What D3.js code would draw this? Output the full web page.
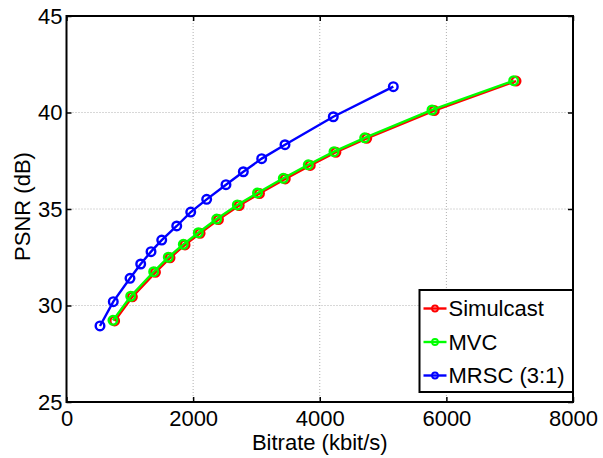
<!DOCTYPE html>
<html>
<head>
<meta charset="utf-8">
<script src="https://cdn.jsdelivr.net/npm/d3@7"></script>
<style>
  body { margin: 0; background: #fff; }
  text { font-family: "Liberation Sans", Arial, Helvetica, sans-serif; }
</style>
</head>
<body>
<div id="chart"></div>
<script>
// data
var seriesNames = ["Simulcast", "MVC", "MRSC (3:1)"];
var seriesColors = ["#ff0000", "#00ff00", "#0000ff"];

var simulcastRate = [760, 1040, 1405, 1635, 1872, 2110, 2400, 2728, 3048, 3455, 3850, 4255, 4742, 5808, 7100];
var simulcastPsnr = [29.20, 30.45, 31.72, 32.47, 33.14, 33.74, 34.45, 35.18, 35.80, 36.56, 37.26, 37.94, 38.66, 40.10, 41.63];

var mvcRate = [734, 1014, 1377, 1608, 1845, 2082, 2372, 2698, 3017, 3424, 3819, 4225, 4710, 5773, 7063];
var mvcPsnr = [29.23, 30.48, 31.75, 32.50, 33.17, 33.77, 34.48, 35.21, 35.83, 36.59, 37.29, 37.97, 38.69, 40.13, 41.65];

var mrscRate = [529, 739, 1003, 1172, 1335, 1504, 1741, 1962, 2214, 2519, 2793, 3083, 3451, 4214, 5162];
var mrscPsnr = [28.94, 30.20, 31.41, 32.15, 32.79, 33.39, 34.12, 34.84, 35.50, 36.26, 36.93, 37.61, 38.33, 39.78, 41.34];

var xTicks = [0, 2000, 4000, 6000, 8000];
var yTicks = [25, 30, 35, 40, 45];

var WIDTH = 603, HEIGHT = 458;
var margin = {left: 66.5, top: 16, right: 30, bottom: 56};

var x = d3.scaleLinear().domain([0, 8000]).range([margin.left, WIDTH - margin.right]);
var y = d3.scaleLinear().domain([25, 45]).range([HEIGHT - margin.bottom, margin.top]);

var svg = d3.select("#chart").append("svg")
    .attr("width", WIDTH)
    .attr("height", HEIGHT);

// grid
var grid = svg.append("g").attr("class", "grid");
grid.selectAll("line.vx")
    .data(xTicks.slice(1, -1)).enter().append("line")
    .attr("x1", function (d) { return x(d); })
    .attr("x2", function (d) { return x(d); })
    .attr("y1", y(25)).attr("y2", y(45))
    .attr("stroke", "#b0b0b0").attr("stroke-width", 1)
    .attr("stroke-dasharray", "1,2");
grid.selectAll("line.hy")
    .data(yTicks.slice(1, -1)).enter().append("line")
    .attr("y1", function (d) { return y(d); })
    .attr("y2", function (d) { return y(d); })
    .attr("x1", x(0)).attr("x2", x(8000))
    .attr("stroke", "#b0b0b0").attr("stroke-width", 1)
    .attr("stroke-dasharray", "1,2");

// series
var series = [
    {rate: simulcastRate, psnr: simulcastPsnr},
    {rate: mvcRate, psnr: mvcPsnr},
    {rate: mrscRate, psnr: mrscPsnr}
];

var line = d3.line()
    .x(function (d) { return x(d[0]); })
    .y(function (d) { return y(d[1]); });

var plot = svg.append("g").attr("id", "plot");
series.forEach(function (s, i) {
    var pts = s.rate.map(function (r, j) { return [r, s.psnr[j]]; });
    plot.append("path")
        .attr("d", line(pts))
        .attr("fill", "none")
        .attr("stroke", seriesColors[i])
        .attr("stroke-width", 2.4);
    plot.selectAll("circle.s" + i)
        .data(pts).enter().append("circle")
        .attr("cx", function (d) { return x(d[0]); })
        .attr("cy", function (d) { return y(d[1]); })
        .attr("r", 4.3)
        .attr("fill", "none")
        .attr("stroke", seriesColors[i])
        .attr("stroke-width", 2.4);
});

// axes (ticks inward on all four sides)
var fontSize = 22;
function styleAxis(g) {
    g.select(".domain").remove();
    g.selectAll(".tick line").attr("stroke", "#000").attr("stroke-width", 1.5);
    g.selectAll(".tick text").attr("font-size", fontSize).attr("fill", "#000")
        .style("font-family", '"Liberation Sans", Arial, sans-serif');
}

svg.append("g")
    .attr("transform", "translate(0," + y(25) + ")")
    .call(d3.axisBottom(x).tickValues(xTicks).tickSizeInner(-5).tickSizeOuter(0).tickPadding(8).tickFormat(d3.format("d")))
    .call(styleAxis);
svg.append("g")
    .attr("transform", "translate(0," + y(45) + ")")
    .call(d3.axisTop(x).tickValues(xTicks).tickSizeInner(-5).tickSizeOuter(0).tickFormat(""))
    .call(styleAxis);
svg.append("g")
    .attr("transform", "translate(" + x(0) + ",0)")
    .call(d3.axisLeft(y).tickValues(yTicks).tickSizeInner(-5).tickSizeOuter(0).tickPadding(4).tickFormat(d3.format("d")))
    .call(styleAxis);
svg.append("g")
    .attr("transform", "translate(" + x(8000) + ",0)")
    .call(d3.axisRight(y).tickValues(yTicks).tickSizeInner(-5).tickSizeOuter(0).tickFormat(""))
    .call(styleAxis);

// box
svg.append("rect")
    .attr("x", x(0)).attr("y", y(45))
    .attr("width", x(8000) - x(0)).attr("height", y(25) - y(45))
    .attr("fill", "none").attr("stroke", "#000").attr("stroke-width", 2);

// axis labels
svg.append("text")
    .attr("x", (x(0) + x(8000)) / 2)
    .attr("y", 450)
    .attr("text-anchor", "middle")
    .attr("font-size", 22)
    .text("Bitrate (kbit/s)");
svg.append("text")
    .attr("transform", "translate(29.5,206.5)rotate(-90)")
    .attr("text-anchor", "middle")
    .attr("font-size", 22)
    .text("PSNR (dB)");

// legend
var legend = svg.append("g").attr("id", "legend");
var lgX = 419.5, lgY = 290, lgW = x(8000) - 419.5, lgH = 102;
legend.append("rect")
    .attr("x", lgX).attr("y", lgY).attr("width", lgW).attr("height", lgH)
    .attr("fill", "#fff").attr("stroke", "#000").attr("stroke-width", 2);
seriesNames.forEach(function (name, i) {
    var cy = lgY + 18.5 + i * 33.5;
    legend.append("line")
        .attr("x1", lgX + 4).attr("x2", lgX + 27)
        .attr("y1", cy).attr("y2", cy)
        .attr("stroke", seriesColors[i]).attr("stroke-width", 2.4);
    legend.append("circle")
        .attr("cx", lgX + 15.5).attr("cy", cy).attr("r", 3)
        .attr("fill", "none").attr("stroke", seriesColors[i]).attr("stroke-width", 1.8);
    legend.append("text")
        .attr("x", lgX + 29).attr("y", cy)
        .attr("dy", "0.35em")
        .attr("font-size", fontSize)
        .text(name);
});
</script>
</body>
</html>
